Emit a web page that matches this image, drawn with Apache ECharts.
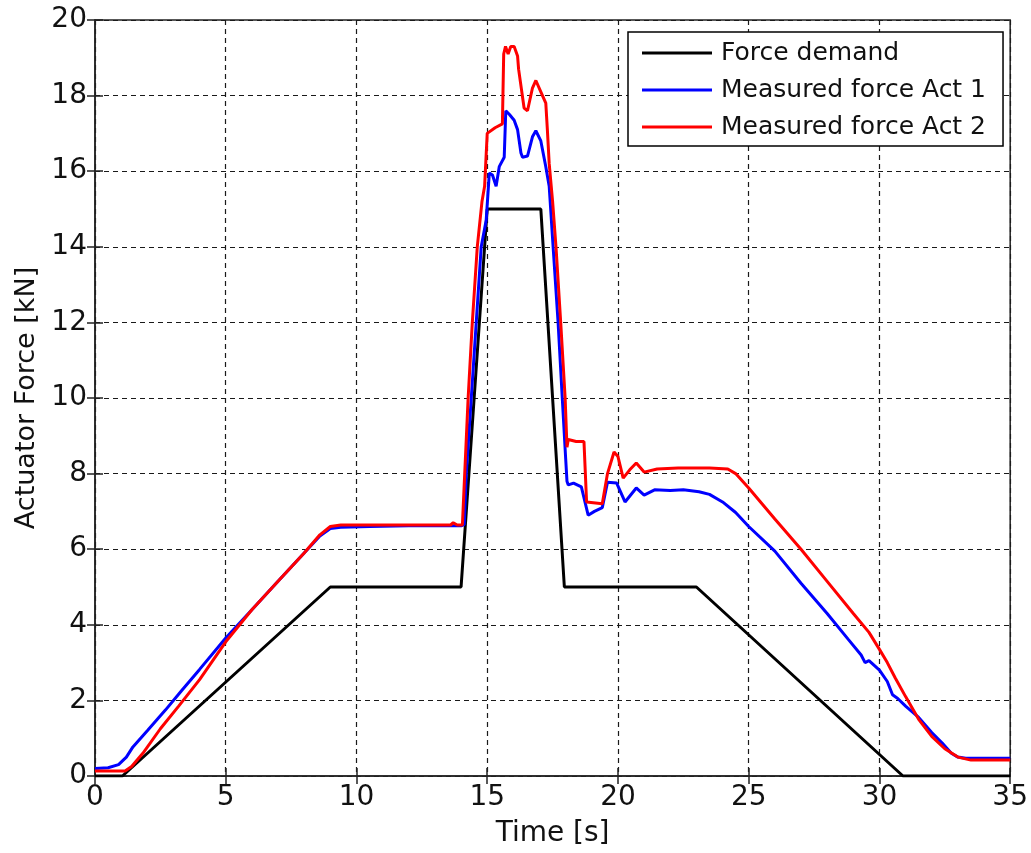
<!DOCTYPE html>
<html>
<head>
<meta charset="utf-8">
<title>Actuator force</title>
<script src="https://cdn.jsdelivr.net/npm/echarts@6/dist/echarts.min.js"></script>
<style>
  html, body { margin: 0; padding: 0; background: #fff; }
  #chart { width: 1031px; height: 853px; }
</style>
</head>
<body>
<div id="chart"></div>
<script>
// Force demand (black): time [s] and force [kN]
const demandT = [0, 1.05, 9, 14, 15, 17.05, 17.95, 23, 30.9, 35];
const demandF = [0, 0, 5, 5, 15, 15, 5, 5, 0, 0];

// Measured force, actuator 1 (blue)
const act1T = [0, 0.5, 0.9, 1.2, 1.45, 2.0, 2.7, 3.3, 4.0, 5.0, 6.0, 7.0, 8.0, 8.6, 9.0, 9.4, 10.5, 12, 14.0,
  14.12, 14.2, 14.39, 14.58, 14.77, 14.96, 15.08, 15.2, 15.34, 15.46, 15.65, 15.71, 15.85, 16.03, 16.16, 16.29, 16.35,
  16.54, 16.73, 16.86, 17.05, 17.24, 17.37, 17.52, 17.71, 17.87, 18.0, 18.05, 18.1, 18.3, 18.6, 18.86, 19.1, 19.4,
  19.6, 19.95, 20.27, 20.7, 21.0, 21.4, 22.0, 22.5, 23.1, 23.5, 24.0, 24.5, 25.0, 26.0, 27.0, 28.0, 28.8, 29.3,
  29.45, 29.6, 30.0, 30.3, 30.5, 30.7, 31.0, 31.5, 32.0, 32.4, 32.75, 33.0, 33.3, 35];
const act1F = [0.2, 0.22, 0.3, 0.5, 0.77, 1.2, 1.75, 2.25, 2.82, 3.65, 4.4, 5.15, 5.9, 6.35, 6.55, 6.58, 6.6, 6.62, 6.62,
  6.65, 8.0, 10.0, 12.0, 14.0, 14.7, 15.95, 15.9, 15.6, 16.12, 16.37, 17.6, 17.5, 17.35, 17.1, 16.48, 16.37,
  16.4, 16.91, 17.07, 16.8, 16.12, 15.6, 14.0, 12.0, 10.0, 8.4, 7.8, 7.7, 7.75, 7.65, 6.9, 7.0, 7.1,
  7.77, 7.75, 7.25, 7.62, 7.43, 7.57, 7.55, 7.57, 7.52, 7.45, 7.25, 6.97, 6.6, 5.95, 5.1, 4.3, 3.62, 3.2,
  3.0, 3.05, 2.8, 2.5, 2.15, 2.05, 1.85, 1.55, 1.15, 0.87, 0.6, 0.5, 0.47, 0.47];

// Measured force, actuator 2 (red)
const act2T = [0, 1.15, 1.4, 1.83, 2.5, 3.2, 4.0, 5.0, 6.0, 7.0, 8.0, 8.6, 9.0, 9.4, 12, 13.6, 13.7, 13.85, 14.05,
  14.12, 14.27, 14.43, 14.62, 14.8, 14.9, 15.0, 15.3, 15.58, 15.63, 15.7, 15.8, 15.9, 16.03, 16.16, 16.2, 16.41,
  16.54, 16.73, 16.86, 17.05, 17.24, 17.3, 17.37, 17.5, 17.63, 17.81, 17.98, 18.05, 18.1, 18.4, 18.7, 18.8, 19.4,
  19.6, 19.85, 20.0, 20.2, 20.45, 20.7, 21.0, 21.5, 22.3, 23.5, 24.2, 24.5, 25.0, 26.0, 27.0, 28.0, 29.0, 29.6,
  30.0, 30.3, 30.6, 31.0, 31.5, 32.0, 32.5, 33.0, 33.5, 35];
const act2F = [0.13, 0.13, 0.25, 0.6, 1.25, 1.85, 2.55, 3.55, 4.4, 5.15, 5.9, 6.38, 6.6, 6.64, 6.64, 6.64, 6.7, 6.64, 6.64,
  6.69, 10.0, 12.0, 14.0, 15.2, 15.6, 17.0, 17.15, 17.25, 19.1, 19.3, 19.1, 19.3, 19.3, 19.05, 18.7, 17.67,
  17.6, 18.2, 18.4, 18.1, 17.8, 17.1, 16.2, 15.2, 14.0, 12.0, 10.0, 8.7, 8.9, 8.85, 8.85, 7.25, 7.2,
  8.0, 8.57, 8.45, 7.88, 8.1, 8.28, 8.04, 8.12, 8.15, 8.15, 8.12, 8.0, 7.62, 6.8, 6.0, 5.15, 4.3, 3.8,
  3.35, 3.0, 2.6, 2.1, 1.5, 1.05, 0.72, 0.5, 0.42, 0.42];

const seriesNames = ['Force demand', 'Measured force Act 1', 'Measured force Act 2'];
const seriesColors = ['#000000', '#0000ff', '#ff0000'];

const pairs = (ts, fs) => ts.map((t, i) => [t, fs[i]]);

const FONT = 'DejaVu Sans, Verdana, sans-serif';
const chart = echarts.init(document.getElementById('chart'), null, { renderer: 'canvas' });

const gridDash = { color: '#1a1a1a', width: 1.2, type: [5, 4] };
const tickStyle = { color: '#222', width: 1.5 };

chart.setOption({
  animation: false,
  backgroundColor: '#ffffff',
  grid: { left: 95, right: 19, top: 20, bottom: 77, show: true, borderColor: '#222', borderWidth: 1.5 },
  legend: {
    left: 628, top: 32,
    orient: 'vertical',
    data: seriesNames.map((n, i) => ({ name: n, icon: 'rect', itemStyle: { color: seriesColors[i] } })),
    itemWidth: 70, itemHeight: 3, itemGap: 9,
    padding: [7, 17, 5, 14],
    backgroundColor: '#fff', borderColor: '#000', borderWidth: 1.5, borderRadius: 0,
    textStyle: { fontFamily: FONT, fontSize: 25, color: '#111', lineHeight: 28, padding: [0, 0, 0, 4] }
  },
  xAxis: [
    {
      type: 'value', min: 0, max: 35, interval: 5, position: 'bottom',
      name: 'Time [s]', nameLocation: 'middle', nameGap: 44,
      nameTextStyle: { fontFamily: FONT, fontSize: 28, color: '#111' },
      axisLine: { show: true, lineStyle: tickStyle },
      axisTick: { show: true, inside: true, length: 8, lineStyle: tickStyle },
      axisLabel: { fontFamily: FONT, fontSize: 28, color: '#111', margin: 8 },
      splitLine: { show: true, lineStyle: gridDash }
    },
    {
      type: 'value', min: 0, max: 35, interval: 5, position: 'top',
      axisLine: { show: false },
      axisTick: { show: true, inside: true, length: 8, lineStyle: tickStyle },
      axisLabel: { show: false }, splitLine: { show: false }
    }
  ],
  yAxis: [
    {
      type: 'value', min: 0, max: 20, interval: 2, position: 'left',
      name: 'Actuator Force [kN]', nameLocation: 'middle', nameGap: 52,
      nameTextStyle: { fontFamily: FONT, fontSize: 27, color: '#111' },
      axisLine: { show: true, lineStyle: tickStyle },
      axisTick: { show: true, inside: true, length: 8, lineStyle: tickStyle },
      axisLabel: { fontFamily: FONT, fontSize: 28, color: '#111', margin: 8 },
      splitLine: { show: true, lineStyle: gridDash }
    },
    {
      type: 'value', min: 0, max: 20, interval: 2, position: 'right',
      axisLine: { show: false },
      axisTick: { show: true, inside: true, length: 8, lineStyle: tickStyle },
      axisLabel: { show: false }, splitLine: { show: false }
    }
  ],
  series: [
    { name: seriesNames[0], data: pairs(demandT, demandF) },
    { name: seriesNames[1], data: pairs(act1T, act1F) },
    { name: seriesNames[2], data: pairs(act2T, act2F) }
  ].map((s, i) => ({
    type: 'line', name: s.name, data: s.data,
    xAxisIndex: 0, yAxisIndex: 0,
    showSymbol: false, symbol: 'none',
    lineStyle: { color: seriesColors[i], width: 3 },
    itemStyle: { color: seriesColors[i] },
    z: 3 + i
  }))
});
</script>
</body>
</html>
